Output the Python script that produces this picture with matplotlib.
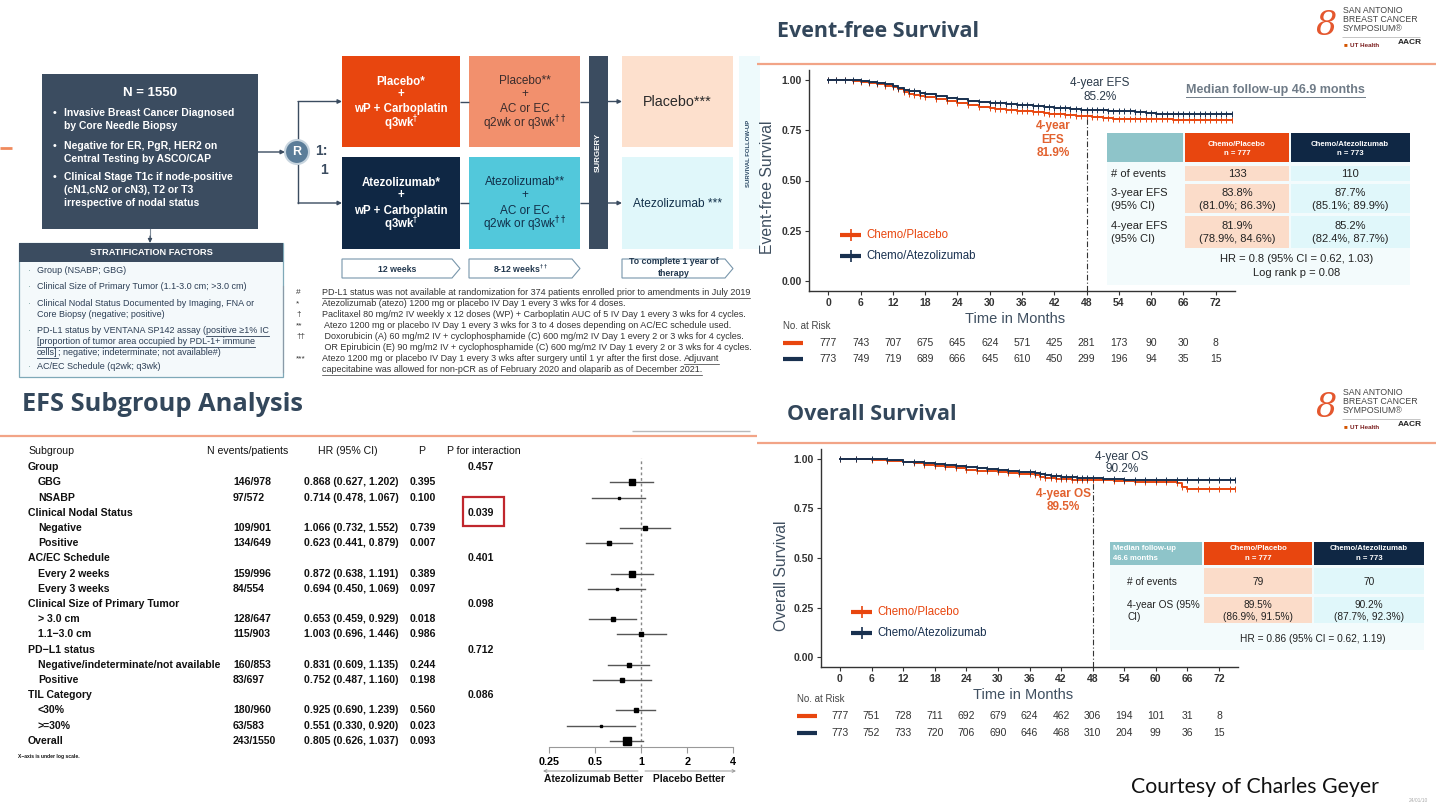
import numpy as np
import matplotlib
matplotlib.use("Agg")
import matplotlib.pyplot as plt
from matplotlib.patches import Rectangle, Polygon, Circle
from matplotlib.transforms import blended_transform_factory

# ---------------- data ----------------
months = [0, 6, 12, 18, 24, 30, 36, 42, 48, 54, 60, 66, 72]

efs_risk_placebo = [777, 743, 707, 675, 645, 624, 571, 425, 281, 173, 90, 30, 8]
efs_risk_atezo = [773, 749, 719, 689, 666, 645, 610, 450, 299, 196, 94, 35, 15]
os_risk_placebo = [777, 751, 728, 711, 692, 679, 624, 462, 306, 194, 101, 31, 8]
os_risk_atezo = [773, 752, 733, 720, 706, 690, 646, 468, 310, 204, 99, 36, 15]

efs_placebo_t = [0, 1.5, 3, 4.5, 6, 7.5, 9, 10.5, 12, 13, 14, 15, 16, 17, 18, 20, 22, 24, 26, 28,
                 30, 31, 32, 33, 34, 35, 36, 37, 38, 39, 40, 41, 42, 43, 44, 45, 46, 47, 48, 49,
                 50, 51, 52, 53, 54, 55, 56, 57, 58, 59, 60, 61, 62, 63, 64, 65, 66, 67, 68, 69, 70,
                 71, 72, 73, 74, 75]
efs_placebo_s = [1.000, 1.000, 0.998, 0.995, 0.990, 0.985, 0.980, 0.972, 0.965, 0.955, 0.940, 0.930,
                 0.925, 0.922, 0.918, 0.908, 0.897, 0.888, 0.878, 0.867, 0.860, 0.858, 0.856, 0.853,
                 0.850, 0.848, 0.846, 0.844, 0.842, 0.840, 0.836, 0.833, 0.831, 0.829, 0.827, 0.825,
                 0.823, 0.821, 0.819, 0.817, 0.815, 0.812, 0.810, 0.808, 0.807, 0.806, 0.805, 0.805,
                 0.805, 0.805, 0.805, 0.805, 0.805, 0.805, 0.803, 0.803, 0.803, 0.803, 0.803, 0.803,
                 0.803, 0.803, 0.803, 0.803, 0.803, 0.803]
efs_atezo_t = [0, 1.5, 3, 4.5, 6, 7.5, 9, 10.5, 12, 13, 14, 15, 16, 17, 18, 20, 22, 24, 26, 28,
               30, 31, 32, 33, 34, 35, 36, 37, 38, 39, 40, 41, 42, 43, 44, 45, 46, 47, 48, 49,
               50, 51, 52, 53, 54, 55, 56, 57, 58, 59, 60, 61, 62, 63, 64, 65, 66, 67, 68, 69, 70,
               71, 72, 73, 74, 75]
efs_atezo_s = [1.000, 1.000, 1.000, 0.998, 0.995, 0.990, 0.985, 0.978, 0.970, 0.958, 0.950, 0.946,
               0.943, 0.938, 0.932, 0.922, 0.912, 0.905, 0.898, 0.890, 0.886, 0.885, 0.884, 0.882,
               0.880, 0.878, 0.876, 0.875, 0.873, 0.870, 0.866, 0.864, 0.862, 0.860, 0.859, 0.857,
               0.855, 0.853, 0.852, 0.851, 0.850, 0.849, 0.848, 0.847, 0.846, 0.845, 0.844, 0.843,
               0.842, 0.835, 0.834, 0.833, 0.830, 0.830, 0.830, 0.830, 0.830, 0.830, 0.830, 0.830,
               0.830, 0.830, 0.830, 0.830, 0.830, 0.830]

os_placebo_t = [0, 3, 6, 9, 12, 14, 16, 18, 20, 22, 24, 26, 28, 30, 32, 34, 36, 37, 38, 39, 40, 41,
                42, 43, 44, 45, 46, 47, 48, 50, 52, 54, 56, 58, 60, 62, 64, 65, 66, 68, 70, 72, 74, 75]
os_placebo_s = [1.000, 1.000, 0.996, 0.990, 0.982, 0.977, 0.970, 0.963, 0.958, 0.952, 0.946, 0.941,
                0.937, 0.933, 0.930, 0.926, 0.922, 0.917, 0.911, 0.906, 0.902, 0.900, 0.898, 0.897,
                0.896, 0.896, 0.895, 0.895, 0.895, 0.893, 0.890, 0.888, 0.886, 0.885, 0.884, 0.882,
                0.880, 0.860, 0.848, 0.848, 0.848, 0.848, 0.848, 0.848]
os_atezo_t = [0, 3, 6, 9, 12, 14, 16, 18, 20, 22, 24, 26, 28, 30, 32, 34, 36, 37, 38, 39, 40, 41,
              42, 43, 44, 45, 46, 47, 48, 50, 52, 54, 56, 58, 60, 62, 64, 66, 68, 70, 72, 74, 75]
os_atezo_s = [1.000, 1.000, 0.998, 0.993, 0.986, 0.983, 0.978, 0.974, 0.968, 0.962, 0.957, 0.952,
              0.948, 0.944, 0.940, 0.936, 0.932, 0.928, 0.924, 0.920, 0.916, 0.913, 0.911, 0.909,
              0.907, 0.906, 0.904, 0.903, 0.902, 0.900, 0.898, 0.896, 0.895, 0.894, 0.894, 0.893,
              0.893, 0.893, 0.893, 0.893, 0.893, 0.893, 0.893]

# forest plot
fp_labels = ["Group", "GBG", "NSABP", "Clinical Nodal Status", "Negative", "Positive",
             "AC/EC Schedule", "Every 2 weeks", "Every 3 weeks", "Clinical Size of Primary Tumor",
             "> 3.0 cm", "1.1\u22123.0 cm", "PD\u2212L1 status", "Negative/indeterminate/not available",
             "Positive", "TIL Category", "<30%", ">=30%", "Overall"]
fp_is_header = [1, 0, 0, 1, 0, 0, 1, 0, 0, 1, 0, 0, 1, 0, 0, 1, 0, 0, 2]
fp_n_text = ["", "146/978", "97/572", "", "109/901", "134/649", "", "159/996", "84/554", "",
             "128/647", "115/903", "", "160/853", "83/697", "", "180/960", "63/583", "243/1550"]
fp_patients = [0, 978, 572, 0, 901, 649, 0, 996, 554, 0, 647, 903, 0, 853, 697, 0, 960, 583, 1550]
fp_hr = [None, 0.868, 0.714, None, 1.066, 0.623, None, 0.872, 0.694, None, 0.653, 1.003, None,
         0.831, 0.752, None, 0.925, 0.551, 0.805]
fp_lo = [None, 0.627, 0.478, None, 0.732, 0.441, None, 0.638, 0.450, None, 0.459, 0.696, None,
         0.609, 0.487, None, 0.690, 0.330, 0.626]
fp_hi = [None, 1.202, 1.067, None, 1.552, 0.879, None, 1.191, 1.069, None, 0.929, 1.446, None,
         1.135, 1.160, None, 1.239, 0.920, 1.037]
fp_hr_text = ["", "0.868 (0.627, 1.202)", "0.714 (0.478, 1.067)", "", "1.066 (0.732, 1.552)",
              "0.623 (0.441, 0.879)", "", "0.872 (0.638, 1.191)", "0.694 (0.450, 1.069)", "",
              "0.653 (0.459, 0.929)", "1.003 (0.696, 1.446)", "", "0.831 (0.609, 1.135)",
              "0.752 (0.487, 1.160)", "", "0.925 (0.690, 1.239)", "0.551 (0.330, 0.920)",
              "0.805 (0.626, 1.037)"]
fp_p = ["", "0.395", "0.100", "", "0.739", "0.007", "", "0.389", "0.097", "", "0.018", "0.986",
        "", "0.244", "0.198", "", "0.560", "0.023", "0.093"]
fp_p_int = ["0.457", "", "", "0.039", "", "", "0.401", "", "", "0.098", "", "", "0.712", "", "",
            "0.086", "", "", ""]
fp_ticks = [0.25, 0.5, 1, 2, 4]
fp_tick_labels = ["0.25", "0.5", "1", "2", "4"]

# ---------------- style ----------------
ORANGE = "#e8460f"
NAVY = "#0f2744"
KMNAVY = "#18304f"
SLATE = "#3b4c60"
SALMON = "#f2906d"
CYAN = "#52c8db"
PEACH = "#fde0cd"
LCYAN = "#e0f7fa"
TEAL = "#8ec4c9"
TITLEC = "#33475b"
ORLINE = "#f2a487"
TXT = "#222222"

plt.rcParams["font.family"] = ["Liberation Sans", "DejaVu Sans"]

W, H = 1436, 809
fig = plt.figure(figsize=(W / 100, H / 100), dpi=100)
fig.patch.set_facecolor("white")


def px_axes(l, t, r, b, z):
    a = fig.add_axes([l / W, 1 - b / H, (r - l) / W, (b - t) / H], zorder=z)
    return a


ov = px_axes(0, 0, W, H, 5)
ov.set_xlim(0, W)
ov.set_ylim(H, 0)
ov.axis("off")


def T(x, y, s, size=7.5, color=TXT, weight="normal", ha="left", va="center", **kw):
    return ov.text(x, y, s, fontsize=size, color=color, fontweight=weight, ha=ha, va=va, **kw)


def rect(x0, y0, x1, y1, fc, ec="none", lw=0, z=1):
    ov.add_patch(Rectangle((x0, y0), x1 - x0, y1 - y0, fc=fc, ec=ec, lw=lw, zorder=z))


def hline(x0, x1, y, color, lw=1, **kw):
    ov.plot([x0, x1], [y, y], color=color, lw=lw, solid_capstyle="butt", **kw)


def arrow(x0, y0, x1, y1, color=SLATE, lw=1):
    ov.annotate("", xy=(x1, y1), xytext=(x0, y0),
                arrowprops=dict(arrowstyle="-|>", color=color, lw=lw, mutation_scale=6,
                                shrinkA=0, shrinkB=0))


renderer = fig.canvas.get_renderer()


def right_edge(txt):
    bb = txt.get_window_extent(renderer)
    return ov.transData.inverted().transform([[bb.x1, bb.y0]])[0][0]


def underline(txt, color, lw=0.6, dy=1.0):
    bb = txt.get_window_extent(renderer)
    inv = ov.transData.inverted()
    (xa, ya), (xb, yb) = inv.transform([[bb.x0, bb.y0], [bb.x1, bb.y1]])
    yl = max(ya, yb) + dy
    ov.plot([xa, xb], [yl, yl], color=color, lw=lw)
    return xb


# ================= schema (top-left) =================
hline(0, 12, 148, "#f08a5d", lw=2)
rect(42, 74, 258, 229, SLATE)
T(150, 93, "N = 1550", 9.5, "white", "bold", ha="center")
bul = [(113, "Invasive Breast Cancer Diagnosed", True), (126, "by Core Needle Biopsy", False),
       (146, "Negative for ER, PgR, HER2 on", True), (159, "Central Testing by ASCO/CAP", False),
       (177, "Clinical Stage T1c if node-positive", True), (190, "(cN1,cN2 or cN3), T2 or T3", False),
       (203, "irrespective of nodal status", False)]
for y, s, b in bul:
    if b:
        T(53, y, "\u2022", 7.5, "white", "bold")
    T(64, y, s, 7.5, "white", "bold")

ov.plot([150, 150], [229, 240], color="#7f8c99", lw=0.8)
arrow(150, 236, 150, 243, color=SLATE, lw=0.8)
rect(19, 243, 283, 377, "#f4f9fb", ec="#7fa9b8", lw=0.9)
rect(19, 243, 283, 262, SLATE)
T(151, 252.5, "STRATIFICATION FACTORS", 6.7, "white", "bold", ha="center")
SC = "#2c3e55"
SF = 6.45
for y, s in [(270.7, "Group (NSABP; GBG)"),
             (286.7, "Clinical Size of Primary Tumor (1.1-3.0 cm; >3.0 cm)"),
             (303, "Clinical Nodal Status Documented by Imaging, FNA or"),
             (314, "Core Biopsy (negative; positive)"),
             (366.7, "AC/EC Schedule (q2wk; q3wk)")]:
    T(37, y, s, SF, SC)
for y in [270.7, 286.7, 303, 330, 366.7]:
    T(28, y, "\u00b7", SF, "#8aa")
t1 = T(37, 330, "PD-L1 status by VENTANA SP142 assay (", SF, SC)
t2 = T(right_edge(t1), 330, "positive \u22651% IC", SF, SC)
underline(t2, SC)
t3 = T(37, 341, "[proportion of tumor area occupied by PDL-1+ immune", SF, SC)
underline(t3, SC)
t4 = T(37, 352, "cells]", SF, SC)
xe = underline(t4, SC)
T(xe, 352, "; negative; indeterminate; not available#)", SF, SC)

# randomisation
arrow(258, 152, 285, 152)
ov.add_patch(Circle((297, 152), 12, fc="#5b7d99", ec="#c8d5df", lw=1.5, zorder=3))
T(297, 152, "R", 9, "white", "bold", ha="center", zorder=4)
T(315, 151, "1:", 10, SLATE, "bold")
T(320, 170, "1", 10, SLATE, "bold")
ov.plot([298, 298], [140, 101.5], color=SLATE, lw=1)
arrow(298, 101.5, 342, 101.5)
ov.plot([298, 298], [164, 203], color=SLATE, lw=1)
arrow(298, 203, 342, 203)

rect(342, 56, 460, 147, ORANGE)
rect(342, 157, 460, 249, NAVY)
rect(469, 56, 580, 147, SALMON)
rect(469, 157, 580, 249, CYAN)
rect(589, 56, 608, 249, SLATE)
rect(622, 56, 733, 147, PEACH)
rect(622, 157, 733, 249, LCYAN)
rect(739, 56, 760, 249, "#eefafc")
for y in (101.5, 203):
    hline(460, 469, y, SLATE)
    hline(580, 589, y, SLATE)
    arrow(608, y, 622, y)

for y, s in [(81.7, "Placebo*"), (94, "+"), (109, "wP + Carboplatin"), (123, r"q3wk$^{\dagger}$")]:
    T(401, y, s, 8.3, "white", "bold", ha="center")
for y, s in [(182.7, "Atezolizumab*"), (195, "+"), (210.7, "wP + Carboplatin"), (224, r"q3wk$^{\dagger}$")]:
    T(401, y, s, 8.3, "white", "bold", ha="center")
for y, s in [(80.7, "Placebo**"), (94, "+"), (109, "AC or EC"), (123, r"q2wk or q3wk$^{\dagger\dagger}$")]:
    T(524.5, y, s, 8.5, "#3a2c2c", ha="center")
for y, s in [(182, "Atezolizumab**"), (195, "+"), (210.7, "AC or EC"), (224, r"q2wk or q3wk$^{\dagger\dagger}$")]:
    T(524.5, y, s, 8.5, "#12304a", ha="center")
T(677.5, 101.7, "Placebo***", 10.3, "#2a2a2a", ha="center")
T(677.5, 204, "Atezolizumab ***", 8.6, "#12304a", ha="center")
T(598.5, 152, "SURGERY", 5.8, "white", "bold", ha="center", rotation=90)
T(748, 153, "SURVIVAL FOLLOW-UP", 4.3, "#2c4a66", "bold", ha="center", rotation=90)

for x0, x1, lines in [(342, 460, [(269, "12 weeks")]),
                      (469, 580, [(269, r"8-12 weeks$^{\dagger\dagger}$")]),
                      (622, 733, [(262, "To complete 1 year of"), (273, "therapy")])]:
    ov.add_patch(Polygon([(x0, 259), (x1 - 8, 259), (x1, 268.5), (x1 - 8, 278), (x0, 278)],
                         closed=True, fc="white", ec="#7896ab", lw=0.8))
    for y, s in lines:
        T((x0 + x1 - 8) / 2, y, s, 6.3, "#22384f", "bold", ha="center")

# footnotes
FN = "#333333"
FF = 6.5
fns = [("#", "PD-L1 status was not available at randomization for 374 patients enrolled prior to amendments in July 2019", 292.7),
       ("*", "Atezolizumab (atezo) 1200 mg or placebo IV Day 1 every 3 wks for 4 doses.", 303.7),
       ("\u2020", "Paclitaxel 80 mg/m2 IV weekly x 12 doses (WP) + Carboplatin AUC of 5 IV Day 1 every 3 wks for 4 cycles.", 314.8),
       ("**", " Atezo 1200 mg or placebo IV Day 1 every 3 wks for 3 to 4 doses depending on AC/EC schedule used.", 325.8),
       ("\u2020\u2020", " Doxorubicin (A) 60 mg/m2 IV + cyclophosphamide (C) 600 mg/m2 IV Day 1 every 2 or 3 wks for 4 cycles.", 336.8),
       ("", " OR Epirubicin (E) 90 mg/m2 IV + cyclophosphamide (C) 600 mg/m2 IV Day 1 every 2 or 3 wks for 4 cycles.", 347.8),
       ("***", "Atezo 1200 mg or placebo IV Day 1 every 3 wks after surgery until 1 yr after the first dose. ", 358.8),
       ("", "capecitabine was allowed for non-pCR as of February 2020 and olaparib as of December 2021.", 369.6)]
ov.plot([283, 283], [286, 372], color="#8a9aa8", lw=0.8)
for i, (sym, s, y) in enumerate(fns):
    if sym:
        T(296, y, sym, 6, FN)
    t = T(322, y, s, FF, FN)
    if i in (0, 7):
        underline(t, FN, lw=0.5)
    if i == 6:
        ta = T(right_edge(t), y, "Adjuvant", FF, FN)
        underline(ta, FN, lw=0.5)

# ================= titles / decorations =================
T(777, 31, "Event-free Survival", 15.5, TITLEC, "bold", family=["Open Sans", "DejaVu Sans"])
hline(757, W, 64, ORLINE, lw=1.6)
T(787, 414, "Overall Survival", 15.5, TITLEC, "bold", family=["Open Sans", "DejaVu Sans"])
hline(757, W, 443, ORLINE, lw=1.6)
T(22, 404, "EFS Subgroup Analysis", 18.3, TITLEC, "bold", family=["Open Sans", "DejaVu Sans"])
hline(0, 757, 436, ORLINE, lw=1.6)
hline(632, 750, 431, "#b9b9b9", lw=1)

for y0 in (2, 384):
    T(1326, y0 + 24, "8", 24, "#e4572e", ha="center", family=["DejaVu Serif"], style="italic")
    for k, s in enumerate(["SAN ANTONIO", "BREAST CANCER", "SYMPOSIUM\u00ae"]):
        T(1343, y0 + 8 + k * 9, s, 6.3, "#444444")
    hline(1342, 1420, y0 + 35, "#bbbbbb", lw=0.6)
    T(1350, y0 + 43, "UT Health", 4.5, "#7a1d1d", "bold")
    T(1398, y0 + 40, "AACR", 6, "#222222", "bold")
    T(1344, y0 + 43, "\u25a0", 4.5, "#d35400")

T(1255, 787, "Courtesy of Charles Geyer", 15.3, "#111111", ha="center",
  family=["Lato", "DejaVu Sans"])
T(1428, 801, "24/01/10", 3.5, "#aaaaaa", ha="right")


# ================= KM panels =================
def km_panel(l, t, r, b, tp, sp, ta, sa, ydrop):
    ax = px_axes(l, t, r, b, 2)
    ax.patch.set_alpha(0)
    ax.set_xlim(-3.6, 75.6)
    ax.set_ylim(-0.05, 1.05)
    for tt, ss, c in [(tp, sp, ORANGE), (ta, sa, KMNAVY)]:
        ax.step(tt, ss, where="post", color=c, lw=1.4, zorder=3)
        ax.plot(tt, ss, ls="none", marker="|", ms=4, mew=0.7, color=c, zorder=3)
    ax.plot([48, 48], [-0.05, ydrop], color="#333333", lw=0.8, ls=(0, (5, 2, 1, 2)))
    ax.set_xticks(months)
    ax.set_yticks([0, 0.25, 0.5, 0.75, 1.0])
    ax.set_yticklabels(["0.00", "0.25", "0.50", "0.75", "1.00"])
    for sp_ in ("top", "right"):
        ax.spines[sp_].set_visible(False)
    for sp_ in ("left", "bottom"):
        ax.spines[sp_].set_color("#333333")
        ax.spines[sp_].set_linewidth(1)
    ax.tick_params(length=3, width=0.8, color="#333333", labelsize=7.5, labelcolor="#333333", pad=2)
    for lab in ax.get_xticklabels() + ax.get_yticklabels():
        lab.set_fontweight("bold")
    return ax


ax1 = km_panel(809, 70, 1235, 291, efs_placebo_t, efs_placebo_s, efs_atezo_t, efs_atezo_s, 0.86)
ax2 = km_panel(821, 449, 1238, 667, os_placebo_t, os_placebo_s, os_atezo_t, os_atezo_s, 0.88)

# EFS annotations
T(768, 187, "Event-free Survival", 11.3, "#3f4f60", ha="center", rotation=90)
T(1015, 319, "Time in Months", 10.5, "#3f4f60", ha="center")
T(1100, 83.3, "4-year EFS", 8.5, "#2b3a4a", ha="center")
T(1100, 96.7, "85.2%", 8.5, "#2b3a4a", ha="center")
for y, s in [(126, "4-year"), (140, "EFS"), (153.3, "81.9%")]:
    T(1053, y, s, 8.5, "#e2622f", "bold", ha="center")
mf = T(1186, 90, "Median follow-up 46.9 months", 9, "#6f7b87", "bold")
underline(mf, "#6f7b87", lw=0.7)
for y, c, s in [(235, ORANGE, "Chemo/Placebo"), (256, KMNAVY, "Chemo/Atezolizumab")]:
    hline(840, 861, y, c, lw=3)
    ov.plot([850.5], [y], marker="|", ms=8, mew=1.2, color=c)
    T(866, y, s, 8.3, c)
T(783, 325.7, "No. at Risk", 7, "#444444")
tr1 = blended_transform_factory(ax1.transData, ov.transData)
for y, c, vals in [(342.7, ORANGE, efs_risk_placebo), (359.3, KMNAVY, efs_risk_atezo)]:
    hline(783, 803, y, c, lw=3)
    for m, v in zip(months, vals):
        ov.text(m, y, str(v), transform=tr1, fontsize=7.5, color="#333333", ha="center", va="center")

# OS annotations
T(781, 576, "Overall Survival", 11.3, "#3f4f60", ha="center", rotation=90)
T(1023, 695, "Time in Months", 10.5, "#3f4f60", ha="center")
T(1122, 456.7, "4-year OS", 8.5, "#2b3a4a", ha="center")
T(1122, 469.3, "90.2%", 8.5, "#2b3a4a", ha="center")
T(1063, 494, "4-year OS", 8.5, "#e2622f", "bold", ha="center")
T(1063, 506.7, "89.5%", 8.5, "#e2622f", "bold", ha="center")
for y, c, s in [(612.3, ORANGE, "Chemo/Placebo"), (632.7, KMNAVY, "Chemo/Atezolizumab")]:
    hline(851, 872, y, c, lw=3)
    ov.plot([861.5], [y], marker="|", ms=8, mew=1.2, color=c)
    T(877, y, s, 8.3, c)
T(797, 699, "No. at Risk", 7, "#444444")
tr2 = blended_transform_factory(ax2.transData, ov.transData)
for y, c, vals in [(715.7, ORANGE, os_risk_placebo), (732.7, KMNAVY, os_risk_atezo)]:
    hline(797, 817, y, c, lw=3)
    for m, v in zip(months, vals):
        ov.text(m, y, str(v), transform=tr2, fontsize=7.5, color="#333333", ha="center", va="center")

# EFS table
rect(1107, 133, 1410, 285, "#f3fbfc", z=2)
rect(1107, 133, 1183, 162, TEAL, z=3)
rect(1185, 133, 1289, 162, ORANGE, z=3)
rect(1291, 133, 1410, 162, NAVY, z=3)
for (y0, y1) in [(165.7, 181), (184, 213), (216, 247.7)]:
    rect(1185, y0, 1289, y1, "#fbdcc9", z=3)
    rect(1291, y0, 1410, y1, LCYAN, z=3)
T(1237, 144, "Chemo/Placebo", 5.6, "white", "bold", ha="center", zorder=4)
T(1237, 153.3, "n = 777", 5.6, "white", "bold", ha="center", zorder=4)
T(1350, 144, "Chemo/Atezolizumab", 5.6, "white", "bold", ha="center", zorder=4)
T(1350, 153.3, "n = 773", 5.6, "white", "bold", ha="center", zorder=4)
for y, s in [(173.5, "# of events"), (192.7, "3-year EFS"), (205.7, "(95% CI)"),
             (225.7, "4-year EFS"), (239, "(95% CI)")]:
    T(1111, y, s, 8, "#222222", zorder=4)
for y, a, b in [(173.5, "133", "110"), (192.7, "83.8%", "87.7%"), (205.7, "(81.0%; 86.3%)", "(85.1%; 89.9%)"),
                (225.7, "81.9%", "85.2%"), (239, "(78.9%, 84.6%)", "(82.4%, 87.7%)")]:
    T(1237, y, a, 8, "#222222", ha="center", zorder=4)
    T(1350, y, b, 8, "#222222", ha="center", zorder=4)
T(1297, 259, "HR = 0.8 (95% CI = 0.62, 1.03)", 8, "#222222", ha="center", zorder=4)
T(1297, 273, "Log rank p = 0.08", 8, "#222222", ha="center", zorder=4)

# OS table
rect(1110, 542, 1424, 650, "#f3fbfc", z=2)
rect(1110, 542, 1202, 565, TEAL, z=3)
rect(1204, 542, 1312, 565, ORANGE, z=3)
rect(1314, 542, 1424, 565, NAVY, z=3)
for (y0, y1) in [(568, 594), (597, 623)]:
    rect(1204, y0, 1312, y1, "#fbdcc9", z=3)
    rect(1314, y0, 1424, y1, LCYAN, z=3)
T(1113, 549, "Median follow-up", 5.6, "white", "bold", zorder=4)
T(1113, 559, "46.6 months", 5.6, "white", "bold", zorder=4)
T(1258, 549, "Chemo/Placebo", 5.6, "white", "bold", ha="center", zorder=4)
T(1258, 559, "n = 777", 5.6, "white", "bold", ha="center", zorder=4)
T(1369, 549, "Chemo/Atezolizumab", 5.6, "white", "bold", ha="center", zorder=4)
T(1369, 559, "n = 773", 5.6, "white", "bold", ha="center", zorder=4)
T(1127, 582, "# of events", 7.3, "#222222", zorder=4)
T(1127, 605, "4-year OS (95%", 7.3, "#222222", zorder=4)
T(1127, 617, "CI)", 7.3, "#222222", zorder=4)
for y, a, b in [(582, "79", "70"), (605, "89.5%", "90.2%"), (617, "(86.9%, 91.5%)", "(87.7%, 92.3%)")]:
    T(1258, y, a, 7.3, "#222222", ha="center", zorder=4)
    T(1369, y, b, 7.3, "#222222", ha="center", zorder=4)
T(1313, 639, "HR = 0.86 (95% CI = 0.62, 1.19)", 7.3, "#222222", ha="center", zorder=4)

# ================= forest plot =================
ROW0, DROW = 467.3, 15.19
fs = 7.6
T(28, 450.7, "Subgroup", fs, "#111111")
T(207, 450.7, "N events/patients", fs, "#111111")
T(318, 450.7, "HR (95% CI)", fs, "#111111")
T(418, 450.7, "P", fs, "#111111")
T(447, 450.7, "P for interaction", fs, "#111111")
for i, lab in enumerate(fp_labels):
    y = ROW0 + i * DROW
    x = 38 if fp_is_header[i] == 0 else 28
    T(x, y, lab, fs, "#111111", "bold")
    if fp_n_text[i]:
        T(233, y, fp_n_text[i], fs, "#111111", "bold")
        T(304, y, fp_hr_text[i], fs, "#111111", "bold")
        T(410, y, fp_p[i], fs, "#111111", "bold")
    if fp_p_int[i]:
        T(468, y, fp_p_int[i], fs, "#111111", "bold")
ov.add_patch(Rectangle((463, 497), 41, 29, fill=False, ec="#c0272d", lw=1.6))
T(18, 756.7, "X\u2212axis is under log scale.", 3.6, "#111111", "bold")

axf = px_axes(548.7, 458, 733.3, 747, 2)
axf.patch.set_alpha(0)
axf.set_xscale("log", base=2)
axf.set_xlim(0.25, 4)
axf.set_ylim((747 - ROW0) / DROW, (458 - ROW0) / DROW)
axf.axvline(1, color="#888888", lw=1, ls=(0, (2, 2)), zorder=1)
for i in range(len(fp_labels)):
    if fp_hr[i] is None:
        continue
    axf.plot([fp_lo[i], fp_hi[i]], [i, i], color="#555555", lw=1, zorder=2)
    axf.plot([fp_hr[i]], [i], marker="s", ms=fp_patients[i] / 270.0, color="black", zorder=3)
for s in ("top", "right", "left"):
    axf.spines[s].set_visible(False)
axf.spines["bottom"].set_color("#999999")
axf.set_yticks([])
axf.set_xticks(fp_ticks)
axf.set_xticklabels(fp_tick_labels)
axf.minorticks_off()
axf.tick_params(axis="x", length=4, color="#999999", labelsize=7.8, pad=3)
for lab in axf.get_xticklabels():
    lab.set_fontweight("bold")
ov.annotate("", xy=(543, 771), xytext=(638, 771),
            arrowprops=dict(arrowstyle="->", color="#999999", lw=0.7, mutation_scale=5, shrinkA=0, shrinkB=0))
ov.annotate("", xy=(736, 771), xytext=(645, 771),
            arrowprops=dict(arrowstyle="->", color="#999999", lw=0.7, mutation_scale=5, shrinkA=0, shrinkB=0))
T(594, 779, "Atezolizumab Better", 7.4, "#111111", "bold", ha="center")
T(689, 779, "Placebo Better", 7.4, "#111111", "bold", ha="center")

fig.savefig("out.png", dpi=100)
